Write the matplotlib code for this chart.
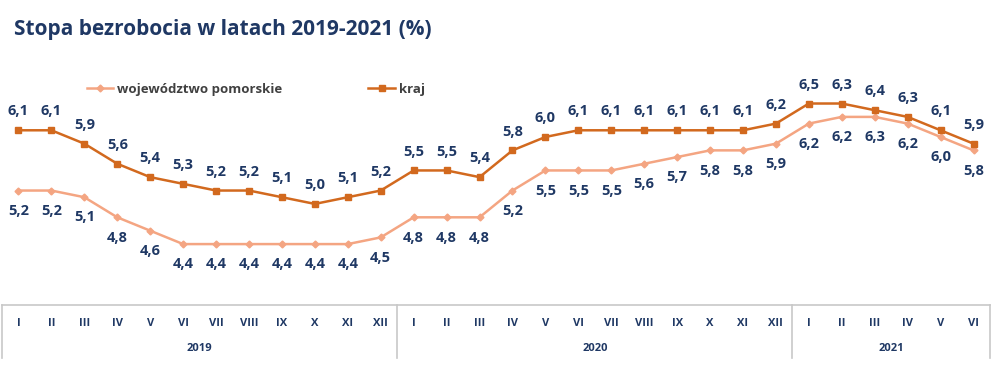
import matplotlib
matplotlib.use("Agg")
import matplotlib.pyplot as plt

months = ["I", "II", "III", "IV", "V", "VI", "VII", "VIII", "IX", "X", "XI", "XII"]
years = ["2019", "2020", "2021"]
categories = months + months + months[:6]

kraj = [6.1, 6.1, 5.9, 5.6, 5.4, 5.3, 5.2, 5.2, 5.1, 5.0, 5.1, 5.2,
        5.5, 5.5, 5.4, 5.8, 6.0, 6.1, 6.1, 6.1, 6.1, 6.1, 6.1, 6.2,
        6.5, 6.5, 6.4, 6.3, 6.1, 5.9]
kraj_labels = ["6,1", "6,1", "5,9", "5,6", "5,4", "5,3", "5,2", "5,2", "5,1", "5,0", "5,1", "5,2",
               "5,5", "5,5", "5,4", "5,8", "6,0", "6,1", "6,1", "6,1", "6,1", "6,1", "6,1", "6,2",
               "6,5", "6,3", "6,4", "6,3", "6,1", "5,9"]
pomorskie = [5.2, 5.2, 5.1, 4.8, 4.6, 4.4, 4.4, 4.4, 4.4, 4.4, 4.4, 4.5,
             4.8, 4.8, 4.8, 5.2, 5.5, 5.5, 5.5, 5.6, 5.7, 5.8, 5.8, 5.9,
             6.2, 6.3, 6.3, 6.2, 6.0, 5.8]
pomorskie_labels = ["5,2", "5,2", "5,1", "4,8", "4,6", "4,4", "4,4", "4,4", "4,4", "4,4", "4,4", "4,5",
                    "4,8", "4,8", "4,8", "5,2", "5,5", "5,5", "5,5", "5,6", "5,7", "5,8", "5,8", "5,9",
                    "6,2", "6,2", "6,3", "6,2", "6,0", "5,8"]
year_spans = [(0, 12), (12, 24), (24, 30)]

navy = "#1F3864"
c_kraj = "#D2691E"
c_pom = "#F4A582"
grid_c = "#C8C8C8"
font = "Open Sans"

fig = plt.figure(figsize=(10, 3.68), dpi=100)
W, H = 1000, 368

# main plot
ax = fig.add_axes([2 / W, (H - 305) / H, 988 / W, 245 / H])
x = list(range(len(categories)))
ax.plot(x, pomorskie, color=c_pom, lw=1.8, marker="D", ms=3.5, label="województwo pomorskie")
ax.plot(x, kraj, color=c_kraj, lw=1.8, marker="s", ms=4.5, label="kraj")
for i in x:
    ax.annotate(kraj_labels[i], (i, kraj[i]), xytext=(0, 8.5), textcoords="offset points",
                ha="center", va="bottom", fontsize=10.5, fontweight="bold", color=navy, family=font)
    ax.annotate(pomorskie_labels[i], (i, pomorskie[i]), xytext=(0, -9.5), textcoords="offset points",
                ha="center", va="top", fontsize=10.5, fontweight="bold", color=navy, family=font)
ax.set_xlim(-0.5, len(categories) - 0.5)
ax.set_ylim(3.49, 7.15)
ax.axis("off")

leg = ax.legend(ncol=2, loc="center left", bbox_to_anchor=(87 / W, 1 - 89 / H),
                bbox_transform=fig.transFigure, frameon=False, borderpad=0, borderaxespad=0,
                handlelength=2.0, handletextpad=0.3, columnspacing=6.5,
                prop={"family": font, "weight": "bold", "size": 9.5})
for t in leg.get_texts():
    t.set_color("#404040")

# category box
cax = fig.add_axes([2 / W, (H - 358) / H, 988 / W, 53 / H])
cax.set_xlim(-0.5, len(categories) - 0.5)
cax.set_ylim(0, 1)
cax.axis("off")
cax.plot([-0.5, len(categories) - 0.5], [1, 1], color=grid_c, lw=1.2, clip_on=False)
edges = [-0.5] + [e - 0.5 for _, e in year_spans]
for e in edges:
    cax.plot([e, e], [0, 1], color=grid_c, lw=1.2, clip_on=False)
for i, c in enumerate(categories):
    cax.text(i, 0.66, c, ha="center", va="center", fontsize=8, fontweight="bold",
             color=navy, family=font)
for yr, (s, e) in zip(years, year_spans):
    cax.text((s + e - 1) / 2, 0.17, yr, ha="center", va="center", fontsize=8,
             fontweight="bold", color=navy, family=font)

fig.text(14 / W, 1 - 30 / H, "Stopa bezrobocia w latach 2019-2021 (%)", ha="left", va="center",
         fontsize=15, fontweight="bold", color=navy, family=font)

fig.savefig("out.png", dpi=100, facecolor="white")
